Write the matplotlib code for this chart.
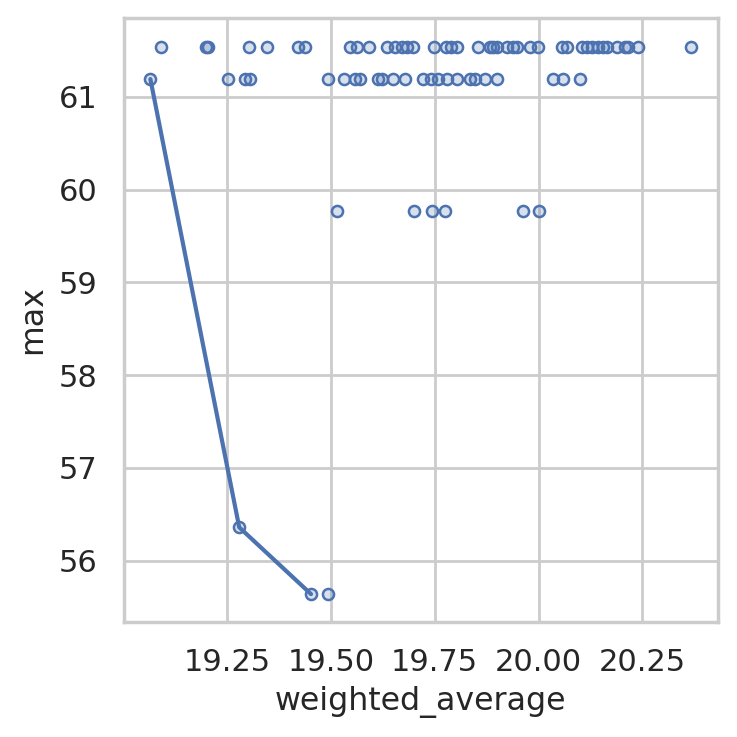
import matplotlib
matplotlib.use("Agg")
import matplotlib.pyplot as plt
import seaborn as sns
import numpy as np

# points at max = 61.54
wa_top = [19.090, 19.198, 19.203, 19.302, 19.346, 19.421, 19.437, 19.546, 19.562, 19.592,
          19.636, 19.654, 19.670, 19.682, 19.697, 19.749, 19.776, 19.789, 19.803, 19.855,
          19.883, 19.891, 19.899, 19.923, 19.939, 19.947, 19.979, 19.999, 20.056, 20.068,
          20.104, 20.116, 20.128, 20.144, 20.156, 20.164, 20.188, 20.208, 20.216, 20.240,
          20.367]
# points at max = 61.19
wa_mid = [19.065, 19.252, 19.293, 19.306, 19.493, 19.532, 19.558, 19.570, 19.614, 19.622,
          19.649, 19.679, 19.722, 19.741, 19.757, 19.779, 19.803, 19.836, 19.847, 19.871,
          19.900, 20.034, 20.058, 20.099]
# points at max = 59.77
wa_low = [19.514, 19.701, 19.743, 19.775, 19.962, 20.002]
# remaining points
wa_other = [19.279, 19.452, 19.493]
max_other = [56.36, 55.64, 55.64]

# front line
front_wa = [19.065, 19.279, 19.452]
front_max = [61.19, 56.36, 55.64]

weighted_average = np.array(wa_top + wa_mid + wa_low + wa_other)
max_values = np.array([61.54] * len(wa_top) + [61.19] * len(wa_mid) +
                      [59.77] * len(wa_low) + max_other)

sns.set_theme(style="whitegrid")
fig = plt.figure(figsize=(3.685, 3.685), dpi=200)
ax = fig.add_axes([0.168, 0.156, 0.806, 0.820])
blue = "#4C72B0"
ax.scatter(weighted_average, max_values, s=16, facecolor=(0.298, 0.447, 0.690, 0.22),
           edgecolor=blue, linewidth=0.9, zorder=3)
ax.plot(front_wa, front_max, color=blue, linewidth=1.5, zorder=4)
ax.set_xlim(19.001, 20.432)
ax.set_ylim(55.339, 61.852)
ax.set_xticks([19.25, 19.5, 19.75, 20.0, 20.25])
ax.set_yticks([56, 57, 58, 59, 60, 61])
ax.set_xlabel("weighted_average", fontsize=11.4, labelpad=3)
ax.set_ylabel("max", fontsize=11.4, labelpad=3.6)
fig.savefig("out.png", dpi=200)
